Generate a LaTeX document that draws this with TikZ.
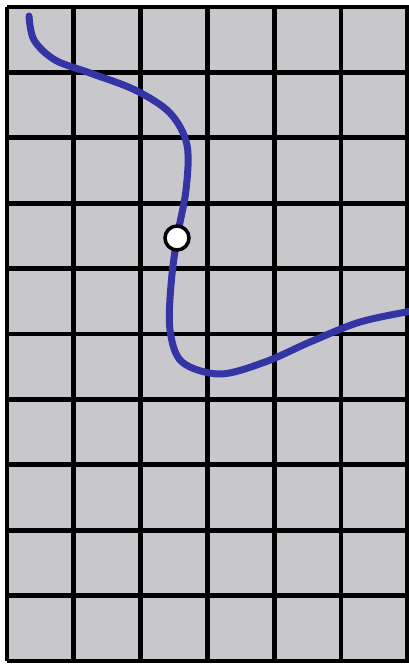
\documentclass[tikz,border=0pt]{standalone}
\definecolor{cellgray}{RGB}{200,200,204}
\definecolor{curveblue}{RGB}{52,52,165}
\begin{document}
\begin{tikzpicture}[x=1pt,y=-1pt,
  gridline/.style={line width=4.8pt,black},
  curve/.style={line width=7pt,curveblue,line cap=round},
  dot/.style={circle,draw=black,fill=white,line width=3.5pt,minimum size=24pt,inner sep=0pt}]
\useasboundingbox (0,0) rectangle (409,664);
\fill[white] (0,0) rectangle (409,664);
\fill[cellgray] (7,7) rectangle (409,661);
\foreach \i in {0,...,6} {
  \draw[gridline] ({7+\i*66.8},7) -- ({7+\i*66.8},661);
}
\foreach \j in {0,...,10} {
  \draw[gridline] (7,{7+\j*65.4}) -- (409,{7+\j*65.4});
}
\begin{scope}
\clip (0,0) rectangle (409,664);
\draw[curve] plot[smooth,tension=0.55] coordinates {
  (29,16) (34,40) (55,60) (90,73) (135,90) (170,113) (187,145) (186,190) (177,238)
  (171,285) (170,330) (182,362) (220,374) (265,362) (310,342) (360,322) (412,311)};
\end{scope}
\node[dot] (p) at (177,238) {};
\end{tikzpicture}
\end{document}
